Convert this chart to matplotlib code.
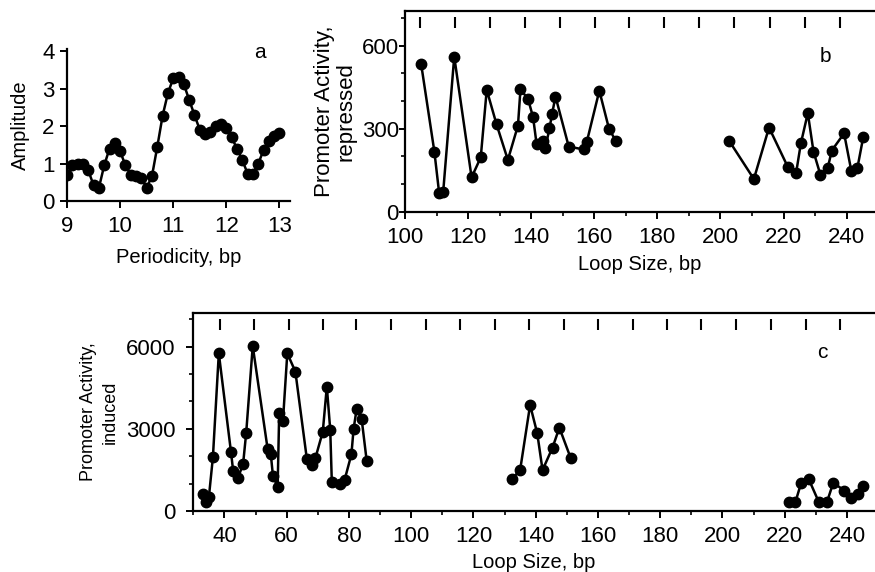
import matplotlib.pyplot as plt
from matplotlib.ticker import MultipleLocator
import matplotlib.transforms as mtransforms

plt.rcParams['font.family'] = ['Liberation Sans', 'DejaVu Sans']
plt.rcParams['font.size'] = 14.5

# panel a: amplitude vs periodicity
per_x = [9.0, 9.1, 9.2, 9.3, 9.4, 9.5, 9.6, 9.7, 9.8, 9.9,
         10.0, 10.1, 10.2, 10.3, 10.4, 10.5, 10.6, 10.7, 10.8, 10.9,
         11.0, 11.1, 11.2, 11.3, 11.4, 11.5, 11.6, 11.7, 11.8, 11.9,
         12.0, 12.1, 12.2, 12.3, 12.4, 12.5, 12.6, 12.7, 12.8, 12.9, 13.0]
amp = [0.70, 0.95, 0.98, 0.98, 0.82, 0.42, 0.35, 0.95, 1.40, 1.56,
       1.33, 0.95, 0.70, 0.67, 0.62, 0.35, 0.67, 1.45, 2.28, 2.88,
       3.28, 3.32, 3.12, 2.70, 2.30, 1.90, 1.80, 1.85, 2.00, 2.05,
       1.95, 1.70, 1.40, 1.10, 0.73, 0.73, 1.00, 1.35, 1.60, 1.75, 1.83]

# panel b: repressed, two segments
rep_x1 = [105.1, 109.3, 110.8, 112.1, 115.6, 121.1, 124.0, 125.9, 129.0, 132.6,
          135.8, 136.6, 139.0, 140.6, 141.7, 143.8, 144.5, 145.8, 146.6, 147.7,
          151.9, 156.6, 157.6, 161.6, 164.7, 166.8]
rep_y1 = [534, 217, 69, 72, 560, 124, 196, 440, 316, 187,
          311, 442, 407, 341, 245, 257, 231, 301, 352, 416,
          235, 225, 251, 437, 298, 257]
rep_x2 = [202.7, 210.6, 215.4, 221.3, 224.0, 225.5, 227.7, 229.5, 231.7, 234.0,
          235.3, 239.2, 241.5, 243.4, 245.3]
rep_y2 = [257, 118, 304, 163, 141, 247, 356, 217, 133, 157,
          221, 283, 147, 157, 271]

# panel c: induced, three segments
ind_x1 = [33.0, 34.1, 35.0, 36.3, 38.2, 42.1, 42.8, 44.3, 46.0, 47.0,
          49.1, 53.9, 54.9, 55.6, 57.1, 57.6, 58.8, 60.2, 62.8, 66.5,
          68.1, 69.2, 71.6, 72.9, 74.0, 74.5, 77.0, 78.6, 80.8, 81.5,
          82.5, 84.1, 85.7]
ind_y1 = [621, 316, 499, 1960, 5757, 2166, 1473, 1193, 1716, 2860,
          6024, 2251, 2069, 1278, 888, 3590, 3286, 5757, 5087, 1886,
          1679, 1923, 2896, 4539, 2957, 1071, 974, 1132, 2069, 3000,
          3740, 3347, 1838]
ind_x2 = [132.3, 135.0, 138.2, 140.5, 142.2, 145.4, 147.6, 151.2]
ind_y2 = [1156, 1497, 3870, 2836, 1497, 2312, 3043, 1947]
ind_x3 = [221.3, 223.4, 225.3, 227.7, 230.9, 233.6, 235.6, 239.2, 241.3, 243.4, 245.3]
ind_y3 = [341, 316, 1034, 1168, 341, 341, 1034, 742, 462, 621, 925]

# helical phase marks along the top
marks = [38.5, 49.6, 60.6, 71.6, 82.4, 93.6, 104.7, 115.7, 126.9, 138.0,
         149.0, 160.1, 171.1, 182.2, 193.2, 204.4, 215.7, 226.7, 237.9]

fig = plt.figure(figsize=(8.75, 5.72), dpi=100)
line_kw = dict(color='black', lw=1.8, marker='o', ms=7.5)


def style(ax):
    for s in ax.spines.values():
        s.set_linewidth(1.6)
    ax.tick_params(direction='out', width=1.4, length=5, labelsize=16)
    ax.tick_params(axis='x', pad=6)
    ax.tick_params(axis='y', pad=4)
    ax.tick_params(which='minor', direction='out', width=1.2, length=3)


# ---- a ----
ax_a = fig.add_axes([0.0766, 0.6486, 0.2549, 0.2650])
ax_a.plot(per_x, amp, **line_kw)
ax_a.set_xlim(9, 13.2)
ax_a.set_ylim(0, 4.05)
ax_a.set_xticks([9, 10, 11, 12, 13])
ax_a.set_yticks([0, 1, 2, 3, 4])
ax_a.spines['top'].set_visible(False)
ax_a.spines['right'].set_visible(False)
style(ax_a)
ax_a.set_xlabel('Periodicity, bp', labelpad=8)
ax_a.set_ylabel('Amplitude', labelpad=9)

# ---- b ----
ax_b = fig.add_axes([0.4629, 0.6299, 0.5371, 0.3514])
ax_b.plot(rep_x1, rep_y1, **line_kw)
ax_b.plot(rep_x2, rep_y2, **line_kw)
ax_b.set_xlim(100, 249)
ax_b.set_ylim(0, 726)
ax_b.set_xticks(range(100, 241, 20))
ax_b.xaxis.set_minor_locator(MultipleLocator(10))
ax_b.set_yticks([0, 300, 600])
ax_b.yaxis.set_minor_locator(MultipleLocator(100))
ax_b.spines['right'].set_visible(False)
style(ax_b)
ax_b.tick_params(axis='y', length=4, pad=0.5)
tr_b = mtransforms.blended_transform_factory(ax_b.transData, ax_b.transAxes)
ax_b.vlines([m for m in marks if m > 100], 0.915, 0.97, color='black', lw=1.5, transform=tr_b)
ax_b.set_xlabel('Loop Size, bp', labelpad=5)
ax_b.set_ylabel('Promoter Activity,\nrepressed', labelpad=4, linespacing=1.0, fontsize=16)

# ---- c ----
ax_c = fig.add_axes([0.2209, 0.1066, 0.7791, 0.3467])
ax_c.plot(ind_x1, ind_y1, **line_kw)
ax_c.plot(ind_x2, ind_y2, **line_kw)
ax_c.plot(ind_x3, ind_y3, **line_kw)
ax_c.set_xlim(30, 249)
ax_c.set_ylim(0, 7240)
ax_c.set_xticks(range(40, 241, 20))
ax_c.xaxis.set_minor_locator(MultipleLocator(10))
ax_c.set_yticks([0, 3000, 6000])
ax_c.yaxis.set_minor_locator(MultipleLocator(1000))
ax_c.spines['right'].set_visible(False)
style(ax_c)
ax_c.tick_params(axis='y', pad=8)
tr_c = mtransforms.blended_transform_factory(ax_c.transData, ax_c.transAxes)
ax_c.vlines(marks, 0.915, 0.97, color='black', lw=1.5, transform=tr_c)
ax_c.set_xlabel('Loop Size, bp', labelpad=4)
ax_c.set_ylabel('Promoter Activity,\ninduced', labelpad=5, linespacing=1.4, fontsize=13)

fig.text(260 / 875, 1 - 53 / 572, 'a', ha='center', va='center', fontsize=15)
fig.text(825 / 875, 1 - 57 / 572, 'b', ha='center', va='center', fontsize=15)
fig.text(822 / 875, 1 - 352 / 572, 'c', ha='center', va='center', fontsize=15)

plt.savefig('out.png', dpi=100)
